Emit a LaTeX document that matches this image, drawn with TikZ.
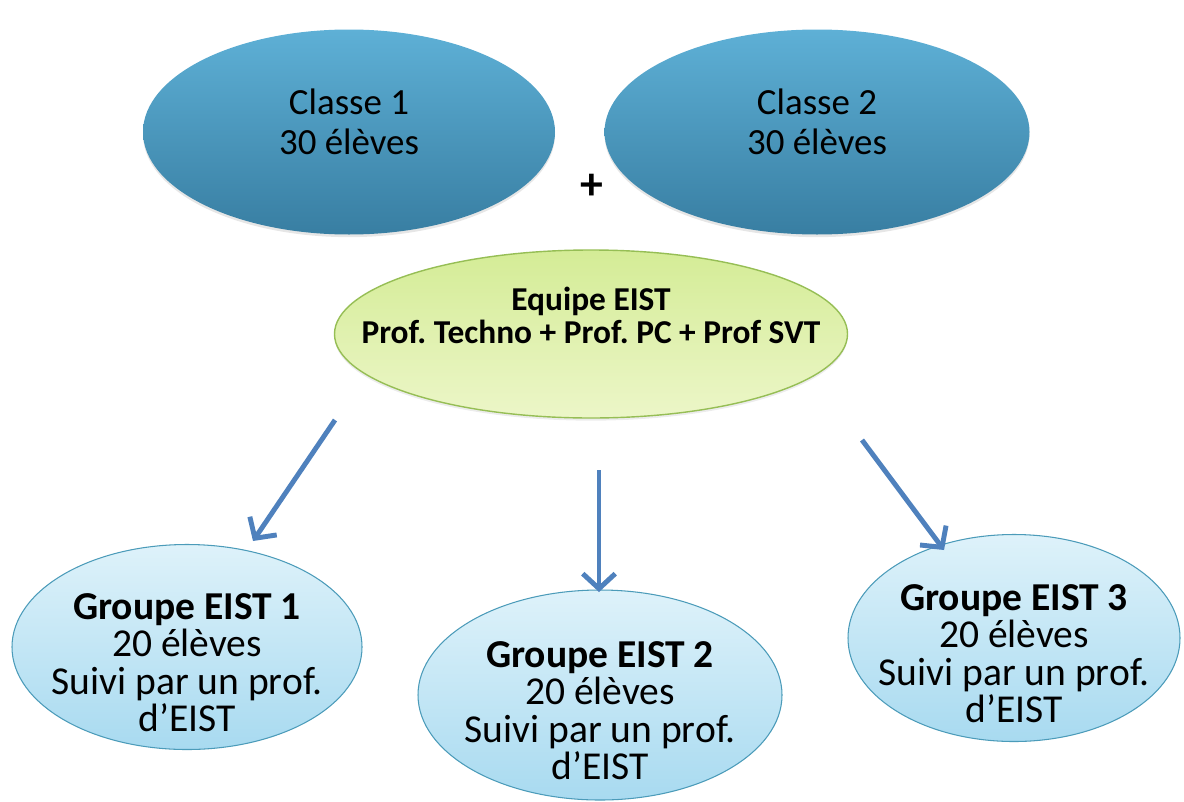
\documentclass[tikz,border=0pt]{standalone}
\usepackage{fontspec}
\setmainfont{Carlito}
\frenchspacing
\usetikzlibrary{shapes, positioning, arrows, arrows.meta, shadows}

\definecolor{classetop}{RGB}{94,176,214}
\definecolor{classebot}{RGB}{56,126,162}
\definecolor{equipetop}{RGB}{212,236,150}
\definecolor{equipebot}{RGB}{236,246,200}
\definecolor{equipeline}{RGB}{150,190,85}
\definecolor{groupetop}{RGB}{222,242,250}
\definecolor{groupebot}{RGB}{168,218,240}
\definecolor{groupeline}{RGB}{75,155,185}
\definecolor{flecheblue}{RGB}{79,129,189}

\newcommand{\hautgroupe}{\rule{0pt}{1.15cm}}
\newcommand{\basequipe}{\rule[-0.75cm]{0pt}{0pt}}
\newcommand{\basclasse}{\rule[-0.4cm]{0pt}{0pt}}

\begin{document}
\begin{tikzpicture}[
          classe/.style={ellipse, inner sep=-1cm, top color=classetop, bottom color=classebot,
            draw=none, align=center, font=\fontsize{21}{22.7}\selectfont,
            drop shadow={opacity=0.2, shadow xshift=0pt, shadow yshift=-1.5pt}},
          equipe/.style={ellipse, inner sep=-1cm, top color=equipetop, bottom color=equipebot,
            draw=equipeline, line width=0.8pt, align=center, font=\fontsize{19}{19.3}\selectfont\bfseries,
            drop shadow={opacity=0.15, shadow xshift=0pt, shadow yshift=-1.5pt}},
          groupe/.style={ellipse, inner sep=-1cm, top color=groupetop, bottom color=groupebot,
            draw=groupeline, line width=0.6pt, align=center, font=\fontsize{22.5}{21.3}\selectfont},
          fleche/.style={draw=flecheblue, line width=2.8pt, -{Straight Barb[length=3mm, width=6.5mm]}}
        ]
        \useasboundingbox (0,0) rectangle (23.68,-16.02);

        % les deux classes
        \node[classe, minimum width=8.24cm, minimum height=4.1cm] (c1) at (6.98,-2.64) {Classe 1\\30 élèves\basclasse};
        \node[classe, minimum width=8.5cm, minimum height=4.1cm] (c2) at (16.34,-2.64) {Classe 2\\30 élèves\basclasse};
        \node[font=\fontsize{26}{28}\selectfont\bfseries] (plus) at (11.84,-3.74) {+};

        % equipe
        \node[equipe, minimum width=10.26cm, minimum height=3.36cm] (eq) at (11.82,-6.68)
          {Equipe EIST\\Prof. Techno + Prof. PC + Prof SVT\basequipe};

        % groupes
        \node[groupe, minimum width=7cm, minimum height=4.1cm] (g1) at (3.74,-12.94)
          {\hautgroupe\textbf{Groupe EIST 1}\\20 élèves\\Suivi par un prof.\\d’EIST};
        \node[groupe, minimum width=7.28cm, minimum height=4.2cm] (g2) at (12,-13.9)
          {\hautgroupe\textbf{Groupe EIST 2}\\20 élèves\\Suivi par un prof.\\d’EIST};
        \node[groupe, minimum width=6.64cm, minimum height=4.14cm] (g3) at (20.28,-12.76)
          {\hautgroupe\textbf{Groupe EIST 3}\\20 élèves\\Suivi par un prof.\\d’EIST};

        \coordinate (a1) at (6.70,-8.40);
        \coordinate (b1) at (5.06,-10.82);
        \coordinate (a2) at (11.98,-9.40);
        \coordinate (b2) at (11.98,-11.84);
        \coordinate (a3) at (17.24,-8.80);
        \coordinate (b3) at (18.88,-11.00);

        \draw[fleche] (a1) -- (b1);
        \draw[fleche] (a2) -- (b2);
        \draw[fleche] (a3) -- (b3);
        \end{tikzpicture}
\end{document}
